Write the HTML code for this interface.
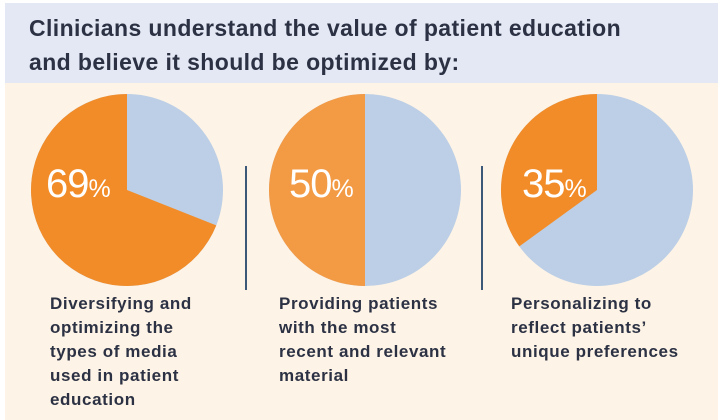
<!DOCTYPE html>
<html><head><meta charset="utf-8"><style>
body{margin:0;width:723px;height:420px;overflow:hidden;background:#fff;font-family:"Liberation Sans",sans-serif}
#bg{position:absolute;left:5px;top:3px;width:713px;height:417px;background:#fdf3e6}
#hdr{position:absolute;left:5px;top:3px;width:713px;height:80px;background:#e3e8f4}
#title{position:absolute;left:29px;top:11px;font-size:23px;font-weight:bold;color:#2c3244;line-height:34px;letter-spacing:0.4px}
.lbl{position:absolute;top:292px;font-size:17px;font-weight:bold;color:#2c3244;line-height:24px;letter-spacing:0.6px}
.pct{position:absolute;color:#fff;font-size:40px;letter-spacing:-1px}
.pct span{font-size:25px;letter-spacing:0}
.div{position:absolute;width:2px;top:166px;height:124px;background:#3b5878}
</style></head><body>
<div id="bg"></div>
<div id="hdr"></div>
<div id="title">Clinicians understand the value of patient education<br>and believe it should be optimized by:</div>
<svg id="pies" width="723" height="420" style="position:absolute;left:0;top:0"></svg>
<div class="div" style="left:245px"></div>
<div class="div" style="left:481px"></div>
<div class="pct" style="left:46px;top:162px">69<span>%</span></div>
<div class="pct" style="left:289px;top:162px">50<span>%</span></div>
<div class="pct" style="left:522px;top:162px">35<span>%</span></div>
<div class="lbl" style="left:50px">Diversifying and<br>optimizing the<br>types of media<br>used in patient<br>education</div>
<div class="lbl" style="left:279px">Providing patients<br>with the most<br>recent and relevant<br>material</div>
<div class="lbl" style="left:511px">Personalizing to<br>reflect patients’<br>unique preferences</div>
<script>
const categories=["Diversifying media","Recent material","Personalizing"];
const values=[69,50,35];
const centersX=[127,365,597];
const cy=190,r=96;
const oranges=["#f28c28","#f39a45","#f28c28"];
const svg=document.getElementById('pies');
const NS="http://www.w3.org/2000/svg";
function pt(cx,frac){const a=-Math.PI/2-2*Math.PI*frac;return [cx+r*Math.cos(a),cy+r*Math.sin(a)];}
values.forEach((v,i)=>{
  const cx=centersX[i];
  const c=document.createElementNS(NS,'circle');
  c.setAttribute('cx',cx);c.setAttribute('cy',cy);c.setAttribute('r',r);c.setAttribute('fill','#bccfe6');
  
  
  svg.appendChild(c);
  const f=v/100;const e=pt(cx,f);
  const p=document.createElementNS(NS,'path');
  p.setAttribute('d',`M${cx},${cy} L${cx},${cy-r} A${r},${r} 0 ${f>0.5?1:0} 0 ${e[0]},${e[1]} Z`);
  p.setAttribute('fill',oranges[i]);
  
  
  svg.appendChild(p);
});
</script>
</body></html>
